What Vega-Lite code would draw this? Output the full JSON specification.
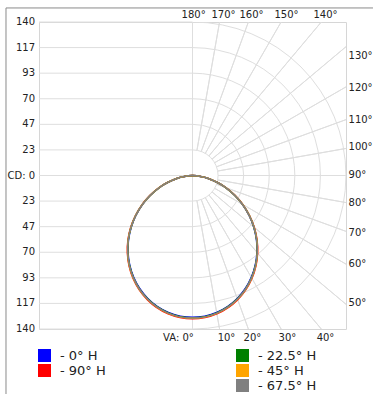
{
  "$schema": "https://vega.github.io/schema/vega-lite/v6.json",
  "width": 307,
  "height": 307,
  "autosize": "none",
  "padding": {"left": 39, "top": 22, "right": 27, "bottom": 65},
  "background": "white",
  "view": {"stroke": "#d6d6d6", "strokeWidth": 1},
  "datasets": {
    "hgrid": [{"v": -140}, {"v": -116.667}, {"v": -93.333}, {"v": -70}, {"v": -46.667}, {"v": -23.333}, {"v": 0}, {"v": 23.333}, {"v": 46.667}, {"v": 70}, {"v": 93.333}, {"v": 116.667}, {"v": 140}],
    "ylab": [{"t": "140", "x": -143.6, "y": 140}, {"t": "117", "x": -143.6, "y": 116.667}, {"t": "93", "x": -143.6, "y": 93.333}, {"t": "70", "x": -143.6, "y": 70}, {"t": "47", "x": -143.6, "y": 46.667}, {"t": "23", "x": -143.6, "y": 23.333}, {"t": "CD: 0", "x": -143.6, "y": 0}, {"t": "23", "x": -143.6, "y": -23.333}, {"t": "47", "x": -143.6, "y": -46.667}, {"t": "70", "x": -143.6, "y": -70}, {"t": "93", "x": -143.6, "y": -93.333}, {"t": "117", "x": -143.6, "y": -116.667}, {"t": "140", "x": -143.6, "y": -140}],
    "rings": [{"r": 23.333, "g0": 0, "g1": 180}, {"r": 46.667, "g0": 0, "g1": 180}, {"r": 70, "g0": 0, "g1": 180}, {"r": 93.333, "g0": 0, "g1": 180}, {"r": 116.667, "g0": 0, "g1": 180}, {"r": 140, "g0": 0, "g1": 180}],
    "spokes": [{"g": 10, "r0": 23.333, "r1": 200}, {"g": 20, "r0": 23.333, "r1": 200}, {"g": 30, "r0": 23.333, "r1": 200}, {"g": 40, "r0": 23.333, "r1": 200}, {"g": 50, "r0": 23.333, "r1": 200}, {"g": 60, "r0": 23.333, "r1": 200}, {"g": 70, "r0": 23.333, "r1": 200}, {"g": 80, "r0": 23.333, "r1": 200}, {"g": 90, "r0": 23.333, "r1": 200}, {"g": 100, "r0": 23.333, "r1": 200}, {"g": 110, "r0": 23.333, "r1": 200}, {"g": 120, "r0": 23.333, "r1": 200}, {"g": 130, "r0": 23.333, "r1": 200}, {"g": 140, "r0": 23.333, "r1": 200}, {"g": 150, "r0": 23.333, "r1": 200}, {"g": 160, "r0": 23.333, "r1": 200}, {"g": 170, "r0": 23.333, "r1": 200}],
    "frame": [{"x": -170.1, "y": 152.8, "x2": 164.6, "y2": 152.8}, {"x": -170.1, "y": 152.8, "x2": -170.1, "y2": -199.3}],
    "toplab": [{"t": "180°", "x": 1, "y": 146.8}, {"t": "170°", "x": 28.3, "y": 146.8}, {"t": "160°", "x": 53.8, "y": 146.8}, {"t": "150°", "x": 85.7, "y": 146.8}, {"t": "140°", "x": 121.3, "y": 146.8}, {"t": "VA: 0°", "x": -12.8, "y": -147.8}, {"t": "10°", "x": 31, "y": -147.8}, {"t": "20°", "x": 54.7, "y": -147.8}, {"t": "30°", "x": 86.6, "y": -147.8}, {"t": "40°", "x": 121.3, "y": -147.8}],
    "rightlab": [{"t": "130°", "x": 142.3, "y": 109.4}, {"t": "120°", "x": 142.3, "y": 79.5}, {"t": "110°", "x": 142.3, "y": 50.2}, {"t": "100°", "x": 142.3, "y": 25.7}, {"t": "90°", "x": 142.3, "y": 0.5}, {"t": "80°", "x": 142.3, "y": -25.5}, {"t": "70°", "x": 142.3, "y": -52}, {"t": "60°", "x": 142.3, "y": -80.3}, {"t": "50°", "x": 142.3, "y": -116.7}],
    "ca": [
      {"s": "0° H", "g": -90, "x": 0, "y": 0}, {"s": "0° H", "g": -80, "x": -13.08, "y": -2.31}, {"s": "0° H", "g": -70, "x": -30.14, "y": -10.96}, {"s": "0° H", "g": -60, "x": -45.49, "y": -26.27}, {"s": "0° H", "g": -50, "x": -55.78, "y": -46.80}, {"s": "0° H", "g": -40, "x": -58.79, "y": -70.07}, {"s": "0° H", "g": -30, "x": -53.64, "y": -92.91}, {"s": "0° H", "g": -20, "x": -40.80, "y": -112.11}, {"s": "0° H", "g": -10, "x": -22.02, "y": -124.87}, {"s": "0° H", "g": 0, "x": 0, "y": -129.35}, {"s": "0° H", "g": 10, "x": 22.02, "y": -124.87}, {"s": "0° H", "g": 20, "x": 40.80, "y": -112.11}, {"s": "0° H", "g": 30, "x": 53.64, "y": -92.91}, {"s": "0° H", "g": 40, "x": 58.79, "y": -70.07}, {"s": "0° H", "g": 50, "x": 55.78, "y": -46.80}, {"s": "0° H", "g": 60, "x": 45.49, "y": -26.27}, {"s": "0° H", "g": 70, "x": 30.14, "y": -10.96}, {"s": "0° H", "g": 80, "x": 13.08, "y": -2.31}, {"s": "0° H", "g": 90, "x": 0, "y": 0},
      {"s": "90° H", "g": -90, "x": 0, "y": 0}, {"s": "90° H", "g": -80, "x": -13.22, "y": -2.33}, {"s": "90° H", "g": -70, "x": -30.44, "y": -11.08}, {"s": "90° H", "g": -60, "x": -45.95, "y": -26.53}, {"s": "90° H", "g": -50, "x": -56.34, "y": -47.28}, {"s": "90° H", "g": -40, "x": -59.39, "y": -70.77}, {"s": "90° H", "g": -30, "x": -54.18, "y": -93.85}, {"s": "90° H", "g": -20, "x": -41.22, "y": -113.23}, {"s": "90° H", "g": -10, "x": -22.24, "y": -126.13}, {"s": "90° H", "g": 0, "x": 0, "y": -130.65}, {"s": "90° H", "g": 10, "x": 22.24, "y": -126.13}, {"s": "90° H", "g": 20, "x": 41.22, "y": -113.23}, {"s": "90° H", "g": 30, "x": 54.18, "y": -93.85}, {"s": "90° H", "g": 40, "x": 59.39, "y": -70.77}, {"s": "90° H", "g": 50, "x": 56.34, "y": -47.28}, {"s": "90° H", "g": 60, "x": 45.95, "y": -26.53}, {"s": "90° H", "g": 70, "x": 30.44, "y": -11.08}, {"s": "90° H", "g": 80, "x": 13.22, "y": -2.33}, {"s": "90° H", "g": 90, "x": 0, "y": 0}
    ],
    "cb": [
      {"s": "22.5° H", "g": -90, "x": 0, "y": 0}, {"s": "22.5° H", "g": -80, "x": -13.12, "y": -2.32}, {"s": "22.5° H", "g": -70, "x": -30.23, "y": -11.00}, {"s": "22.5° H", "g": -60, "x": -45.63, "y": -26.35}, {"s": "22.5° H", "g": -50, "x": -55.95, "y": -46.95}, {"s": "22.5° H", "g": -40, "x": -58.97, "y": -70.28}, {"s": "22.5° H", "g": -30, "x": -53.80, "y": -93.19}, {"s": "22.5° H", "g": -20, "x": -40.93, "y": -112.44}, {"s": "22.5° H", "g": -10, "x": -22.09, "y": -125.25}, {"s": "22.5° H", "g": 0, "x": 0, "y": -129.74}, {"s": "22.5° H", "g": 10, "x": 22.09, "y": -125.25}, {"s": "22.5° H", "g": 20, "x": 40.93, "y": -112.44}, {"s": "22.5° H", "g": 30, "x": 53.80, "y": -93.19}, {"s": "22.5° H", "g": 40, "x": 58.97, "y": -70.28}, {"s": "22.5° H", "g": 50, "x": 55.95, "y": -46.95}, {"s": "22.5° H", "g": 60, "x": 45.63, "y": -26.35}, {"s": "22.5° H", "g": 70, "x": 30.23, "y": -11.00}, {"s": "22.5° H", "g": 80, "x": 13.12, "y": -2.32}, {"s": "22.5° H", "g": 90, "x": 0, "y": 0},
      {"s": "45° H", "g": -90, "x": 0, "y": 0}, {"s": "45° H", "g": -80, "x": -13.18, "y": -2.32}, {"s": "45° H", "g": -70, "x": -30.35, "y": -11.04}, {"s": "45° H", "g": -60, "x": -45.81, "y": -26.45}, {"s": "45° H", "g": -50, "x": -56.17, "y": -47.13}, {"s": "45° H", "g": -40, "x": -59.21, "y": -70.56}, {"s": "45° H", "g": -30, "x": -54.02, "y": -93.57}, {"s": "45° H", "g": -20, "x": -41.09, "y": -112.90}, {"s": "45° H", "g": -10, "x": -22.17, "y": -125.75}, {"s": "45° H", "g": 0, "x": 0, "y": -130.26}, {"s": "45° H", "g": 10, "x": 22.17, "y": -125.75}, {"s": "45° H", "g": 20, "x": 41.09, "y": -112.90}, {"s": "45° H", "g": 30, "x": 54.02, "y": -93.57}, {"s": "45° H", "g": 40, "x": 59.21, "y": -70.56}, {"s": "45° H", "g": 50, "x": 56.17, "y": -47.13}, {"s": "45° H", "g": 60, "x": 45.81, "y": -26.45}, {"s": "45° H", "g": 70, "x": 30.35, "y": -11.04}, {"s": "45° H", "g": 80, "x": 13.18, "y": -2.32}, {"s": "45° H", "g": 90, "x": 0, "y": 0},
      {"s": "67.5° H", "g": -90, "x": 0, "y": 0}, {"s": "67.5° H", "g": -80, "x": -13.15, "y": -2.32}, {"s": "67.5° H", "g": -70, "x": -30.29, "y": -11.02}, {"s": "67.5° H", "g": -60, "x": -45.72, "y": -26.40}, {"s": "67.5° H", "g": -50, "x": -56.06, "y": -47.04}, {"s": "67.5° H", "g": -40, "x": -59.09, "y": -70.42}, {"s": "67.5° H", "g": -30, "x": -53.91, "y": -93.38}, {"s": "67.5° H", "g": -20, "x": -41.01, "y": -112.67}, {"s": "67.5° H", "g": -10, "x": -22.13, "y": -125.50}, {"s": "67.5° H", "g": 0, "x": 0, "y": -130.0}, {"s": "67.5° H", "g": 10, "x": 22.13, "y": -125.50}, {"s": "67.5° H", "g": 20, "x": 41.01, "y": -112.67}, {"s": "67.5° H", "g": 30, "x": 53.91, "y": -93.38}, {"s": "67.5° H", "g": 40, "x": 59.09, "y": -70.42}, {"s": "67.5° H", "g": 50, "x": 56.06, "y": -47.04}, {"s": "67.5° H", "g": 60, "x": 45.72, "y": -26.40}, {"s": "67.5° H", "g": 70, "x": 30.29, "y": -11.02}, {"s": "67.5° H", "g": 80, "x": 13.15, "y": -2.32}, {"s": "67.5° H", "g": 90, "x": 0, "y": 0}
    ]
  },
  "layer": [
    {
      "data": {"name": "hgrid"},
      "mark": {"type": "rule", "stroke": "#dedede", "strokeWidth": 1},
      "encoding": {
        "y": {"field": "v", "type": "quantitative", "scale": {"domain": [-140, 140], "nice": false, "zero": false}, "axis": null},
        "x": {"datum": -140, "type": "quantitative", "scale": {"domain": [-140, 140], "nice": false, "zero": false}, "axis": null},
        "x2": {"datum": 0}
      }
    },
    {
      "data": {"name": "hgrid"},
      "transform": [{"filter": "datum.v == 0"}],
      "mark": {"type": "rule", "stroke": "#dedede", "strokeWidth": 1},
      "encoding": {
        "x": {"datum": 0, "type": "quantitative"},
        "y": {"datum": -140, "type": "quantitative"},
        "y2": {"datum": 140}
      }
    },
    {
      "data": {"name": "rings"},
      "mark": {"type": "arc", "filled": false, "stroke": "#dedede", "strokeWidth": 1, "clip": true},
      "encoding": {
        "theta": {"field": "g0", "type": "quantitative", "stack": null, "scale": {"domain": [0, 180], "range": [3.14159265, 0]}},
        "theta2": {"field": "g1"},
        "radius": {"field": "r", "type": "quantitative", "scale": {"type": "linear", "domain": [0, 140], "zero": true, "nice": false}}
      }
    },
    {
      "data": {"name": "spokes"},
      "mark": {"type": "arc", "filled": false, "stroke": "#dedede", "strokeWidth": 1, "clip": true},
      "encoding": {
        "theta": {"field": "g", "type": "quantitative", "stack": null},
        "theta2": {"field": "g"},
        "radius": {"field": "r1", "type": "quantitative"},
        "radius2": {"field": "r0"}
      }
    },
    {
      "data": {"name": "frame"},
      "mark": {"type": "rule", "stroke": "#8a8a8a", "strokeWidth": 1},
      "encoding": {
        "x": {"field": "x", "type": "quantitative"},
        "y": {"field": "y", "type": "quantitative"},
        "x2": {"field": "x2"},
        "y2": {"field": "y2"}
      }
    },
    {
      "data": {"name": "ca"},
      "mark": {"type": "line", "interpolate": "cardinal", "strokeWidth": 1.5},
      "encoding": {
        "x": {"field": "x", "type": "quantitative"},
        "y": {"field": "y", "type": "quantitative"},
        "order": {"field": "g", "type": "quantitative"},
        "stroke": {"field": "s", "type": "nominal",
          "scale": {"domain": ["0° H", "90° H", "22.5° H", "45° H", "67.5° H"], "range": ["#0000ff", "#ff0000", "#008000", "#ffa500", "#808080"]},
          "legend": null}
      }
    },
    {
      "data": {"name": "cb"},
      "mark": {"type": "line", "interpolate": "cardinal", "strokeWidth": 1.5},
      "encoding": {
        "x": {"field": "x", "type": "quantitative"},
        "y": {"field": "y", "type": "quantitative"},
        "order": {"field": "g", "type": "quantitative"},
        "stroke": {"field": "s", "type": "nominal", "legend": null}
      }
    },
    {
      "data": {"name": "ca"},
      "transform": [{"filter": "datum.g == 0"}],
      "mark": {"type": "point", "shape": "square", "filled": true, "size": 0},
      "encoding": {
        "x": {"field": "x", "type": "quantitative"},
        "y": {"field": "y", "type": "quantitative"},
        "fill": {"field": "s", "type": "nominal",
          "scale": {"domain": ["0° H", "90° H"], "range": ["#0000ff", "#ff0000"]},
          "legend": {"orient": "none", "legendX": -2, "legendY": 326, "title": null, "symbolType": "square", "symbolSize": 169, "symbolOpacity": 1, "labelFont": "DejaVu Sans", "labelFontSize": 13, "labelColor": "#222", "labelExpr": "'- ' + datum.label", "rowPadding": 0, "labelOffset": 8}}
      }
    },
    {
      "data": {"name": "cb"},
      "transform": [{"filter": "datum.g == 0"}],
      "mark": {"type": "point", "shape": "square", "filled": true, "size": 0},
      "encoding": {
        "x": {"field": "x", "type": "quantitative"},
        "y": {"field": "y", "type": "quantitative"},
        "color": {"field": "s", "type": "nominal",
          "scale": {"domain": ["22.5° H", "45° H", "67.5° H"], "range": ["#008000", "#ffa500", "#808080"]},
          "legend": {"orient": "none", "legendX": 196, "legendY": 326, "title": null, "symbolType": "square", "symbolSize": 169, "symbolOpacity": 1, "labelFont": "DejaVu Sans", "labelFontSize": 13, "labelColor": "#222", "labelExpr": "'- ' + datum.label", "rowPadding": 0, "labelOffset": 8}}
      }
    },
    {
      "data": {"name": "ylab"},
      "mark": {"type": "text", "align": "right", "baseline": "middle", "font": "DejaVu Sans", "fontSize": 10, "fill": "#222"},
      "encoding": {
        "x": {"field": "x", "type": "quantitative"},
        "y": {"field": "y", "type": "quantitative"},
        "text": {"field": "t"}
      }
    },
    {
      "data": {"name": "toplab"},
      "mark": {"type": "text", "align": "center", "baseline": "middle", "font": "DejaVu Sans", "fontSize": 10, "fill": "#222"},
      "encoding": {
        "x": {"field": "x", "type": "quantitative"},
        "y": {"field": "y", "type": "quantitative"},
        "text": {"field": "t"}
      }
    },
    {
      "data": {"name": "rightlab"},
      "mark": {"type": "text", "align": "left", "baseline": "middle", "font": "DejaVu Sans", "fontSize": 10, "fill": "#222"},
      "encoding": {
        "x": {"field": "x", "type": "quantitative"},
        "y": {"field": "y", "type": "quantitative"},
        "text": {"field": "t"}
      }
    }
  ]
}
